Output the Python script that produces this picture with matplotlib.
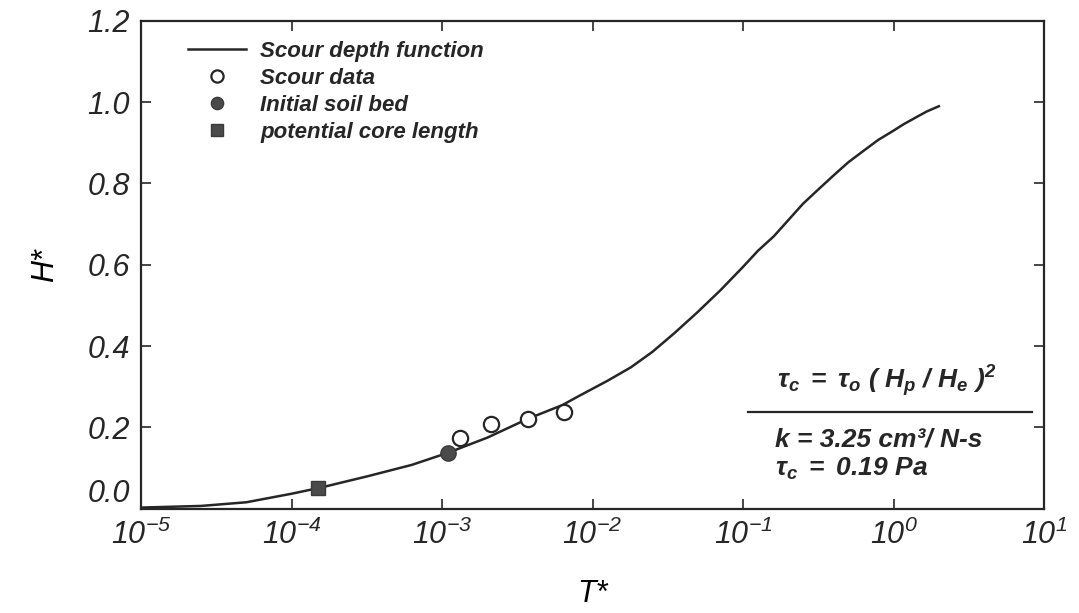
import math

import matplotlib
matplotlib.use("Agg")
import matplotlib.pyplot as plt
import matplotlib.transforms as mtransforms
from matplotlib.ticker import FixedLocator, FuncFormatter, NullLocator

# ---------- data ----------
curve_t = [1e-5, 2.5e-5, 5e-5, 1e-4, 1.6e-4, 3.2e-4, 6.3e-4, 1.1e-3, 2e-3,
           3.7e-3, 6.3e-3, 7.9e-3, 1.26e-2, 1.8e-2, 2.5e-2, 3.5e-2, 5e-2,
           7.1e-2, 0.1, 0.126, 0.16, 0.2, 0.25, 0.32, 0.4, 0.5, 0.63, 0.79,
           1.0, 1.17, 1.4, 1.66, 2.0]
curve_h = [0.003, 0.007, 0.016, 0.037, 0.053, 0.080, 0.108, 0.138, 0.175,
           0.221, 0.255, 0.275, 0.315, 0.348, 0.386, 0.432, 0.484, 0.538,
           0.595, 0.635, 0.670, 0.710, 0.750, 0.787, 0.820, 0.852, 0.880,
           0.907, 0.930, 0.946, 0.962, 0.977, 0.990]

scour_t = [1.32e-3, 2.1e-3, 3.7e-3, 6.5e-3]
scour_h = [0.175, 0.209, 0.221, 0.239]

bed_t = [1.1e-3]
bed_h = [0.138]

core_t = [1.5e-4]
core_h = [0.052]

x_ticks = [1e-5, 1e-4, 1e-3, 1e-2, 1e-1, 1e0, 1e1]
y_ticks = [0.0, 0.2, 0.4, 0.6, 0.8, 1.0, 1.2]

# ---------- style ----------
ink = "#262626"
plt.rcParams["font.family"] = ["Liberation Sans", "DejaVu Sans"]
plt.rcParams["mathtext.fontset"] = "custom"
plt.rcParams["mathtext.rm"] = "Liberation Sans:italic"
plt.rcParams["mathtext.it"] = "Liberation Sans:italic"
plt.rcParams["mathtext.bf"] = "Liberation Sans:italic:bold"
plt.rcParams["text.color"] = ink
plt.rcParams["axes.edgecolor"] = ink
plt.rcParams["xtick.color"] = ink
plt.rcParams["ytick.color"] = ink

fig = plt.figure(figsize=(10.79, 6.13), dpi=100)
ax = fig.add_axes([0.1307, 0.170, 0.8369, 0.796])

ax.plot(curve_t, curve_h, color=ink, lw=1.8, label="Scour depth function")
ax.plot(scour_t, scour_h, "o", ms=11, mfc="white", mec=ink, mew=1.6,
        label="Scour data")
ax.plot(bed_t, bed_h, "o", ms=11, mfc="#4a4a4a", mec="#3a3a3a",
        label="Initial soil bed")
ax.plot(core_t, core_h, "s", ms=10, mfc="#4a4a4a", mec="#3a3a3a",
        label="potential core length")

ax.set_xscale("log")
ax.set_xlim(1e-5, 1e1)
ax.set_ylim(0, 1.2)
ax.xaxis.set_major_locator(FixedLocator(x_ticks))
ax.xaxis.set_minor_locator(NullLocator())
ax.set_yticks(y_ticks)


def pow_label(v, pos):
    exp = int(round(math.log10(v)))
    return r"$\mathdefault{10^{%d}}$" % exp


ax.xaxis.set_major_formatter(FuncFormatter(pow_label))
ax.yaxis.set_major_formatter(FuncFormatter(lambda v, p: "%.1f" % v))

ax.tick_params(which="major", direction="in", length=7, width=1.2,
               top=True, right=True, labelsize=22, pad=8)
for lab in ax.get_xticklabels() + ax.get_yticklabels():
    lab.set_fontstyle("italic")
for sp in ax.spines.values():
    sp.set_linewidth(1.6)

# the 0.0 label sits a little above the corner, as in the original
lift = mtransforms.ScaledTranslation(0, 18 / 100, fig.dpi_scale_trans)
zero_lab = ax.yaxis.get_major_ticks()[0].label1
zero_lab.set_transform(zero_lab.get_transform() + lift)

ax.set_xlabel("T*", fontsize=22, fontstyle="italic", labelpad=20)
ax.set_ylabel("H*", fontsize=22, fontstyle="italic", labelpad=20)

leg = ax.legend(loc="upper left", bbox_to_anchor=(0.03, 1.0), frameon=False,
                handlelength=2.6, handletextpad=0.65, labelspacing=0.27,
                markerscale=0.8,
                prop={"size": 16, "style": "italic", "weight": "bold"})

# ---------- annotation box at lower right ----------
note = {"fontsize": 19, "fontstyle": "italic", "fontweight": "bold",
        "transform": ax.transAxes}
ax.text(0.826, 0.262,
        r"$\mathdefault{\tau_c\ =\ \tau_o\ (\ H_p\ /\ H_e\ )^2}$",
        ha="center", va="center", **note)
ax.plot([0.672, 0.987], [0.199, 0.199], transform=ax.transAxes,
        color=ink, lw=1.6, clip_on=False)
ax.text(0.702, 0.141, "k = 3.25 cm\u00b3/ N-s", ha="left", va="center", **note)
ax.text(0.702, 0.082, r"$\mathdefault{\tau_c\ =\ 0.19\ Pa}$",
        ha="left", va="center", **note)

fig.savefig("out.png", dpi=100)
